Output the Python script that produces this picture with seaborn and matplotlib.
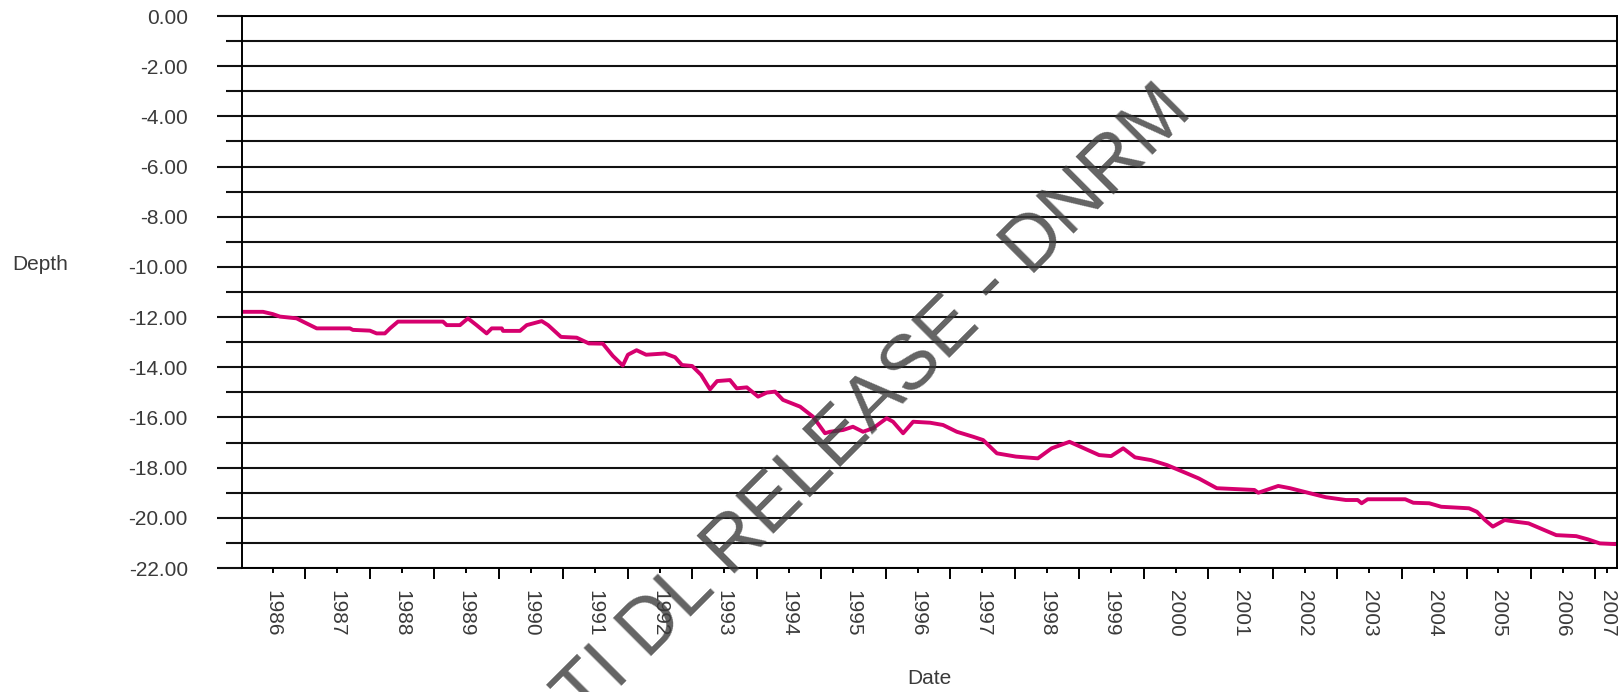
import matplotlib
matplotlib.use('Agg')
import matplotlib.pyplot as plt
import pandas as pd
import seaborn as sns

# depth readings (m)
dates = ['1986-01-08', '1986-05-07', '1986-07-01', '1986-08-11', '1986-11-13', '1986-12-19',
         '1987-03-07', '1987-09-11', '1987-09-28', '1988-01-02', '1988-02-09', '1988-03-27',
         '1988-04-25', '1988-06-09', '1989-02-19', '1989-03-12', '1989-05-26', '1989-07-10',
         '1989-08-28', '1989-10-24', '1989-11-22', '1990-01-18', '1990-01-25', '1990-05-01',
         '1990-06-08', '1990-09-01', '1990-10-07', '1990-12-19', '1991-03-18', '1991-05-26',
         '1991-08-13', '1991-10-09', '1991-12-04', '1992-01-02', '1992-02-20', '1992-04-14',
         '1992-07-30', '1992-09-25', '1992-11-03', '1992-12-31', '1993-02-19', '1993-04-11',
         '1993-05-21', '1993-08-02', '1993-09-09', '1993-11-05', '1994-01-08', '1994-02-26',
         '1994-04-14', '1994-05-29', '1994-09-03', '1994-11-15', '1995-01-22', '1995-02-19',
         '1995-05-04', '1995-06-29', '1995-08-25', '1995-10-21', '1996-01-06', '1996-02-11',
         '1996-04-08', '1996-06-04', '1996-09-08', '1996-11-20', '1997-02-06', '1997-05-10',
         '1997-07-05', '1997-09-21', '1998-01-07', '1998-05-11', '1998-07-28', '1998-11-06',
         '1999-04-23', '1999-06-30', '1999-09-06', '1999-11-12', '2000-02-11', '2000-05-12',
         '2000-09-01', '2000-11-07', '2001-02-17', '2001-09-18', '2001-10-10', '2002-01-31',
         '2002-04-08', '2002-07-29', '2002-10-28', '2003-02-18', '2003-04-26', '2003-05-18',
         '2003-06-21', '2004-01-20', '2004-03-06', '2004-06-04', '2004-08-11', '2005-01-15',
         '2005-03-01', '2005-04-16', '2005-05-30', '2005-08-05', '2005-10-12', '2005-12-18',
         '2006-03-18', '2006-05-24', '2006-09-14', '2006-11-20', '2007-01-26', '2007-05-03']
depth = [-11.79, -11.79, -11.88, -11.98, -12.05, -12.18,
         -12.45, -12.45, -12.51, -12.54, -12.65, -12.65,
         -12.45, -12.18, -12.18, -12.32, -12.32, -12.05,
         -12.32, -12.65, -12.45, -12.45, -12.55, -12.55,
         -12.32, -12.16, -12.32, -12.79, -12.82, -13.05,
         -13.06, -13.55, -13.93, -13.50, -13.32, -13.50,
         -13.45, -13.60, -13.91, -13.95, -14.30, -14.88,
         -14.55, -14.51, -14.84, -14.80, -15.17, -15.01,
         -14.97, -15.30, -15.57, -15.97, -16.63, -16.57,
         -16.50, -16.37, -16.57, -16.43, -16.03, -16.17,
         -16.63, -16.17, -16.21, -16.30, -16.57, -16.77,
         -16.90, -17.43, -17.56, -17.63, -17.23, -16.97,
         -17.50, -17.54, -17.23, -17.59, -17.70, -17.90,
         -18.23, -18.43, -18.82, -18.89, -19.00, -18.73,
         -18.82, -19.02, -19.18, -19.29, -19.29, -19.42,
         -19.26, -19.26, -19.40, -19.42, -19.56, -19.62,
         -19.76, -20.09, -20.35, -20.09, -20.16, -20.22,
         -20.49, -20.69, -20.73, -20.86, -21.02, -21.05]

years = list(range(1986, 2008))
year_labels = [str(y) for y in years]
label_dates = [f'{y}-07-01' for y in years[:-1]] + ['2007-03-08']
year_starts = [f'{y}-01-01' for y in years[1:]]

sns.set_style('white')
plt.rcParams['font.family'] = ['Liberation Sans', 'DejaVu Sans']
plt.rcParams['axes.unicode_minus'] = False

df = pd.DataFrame({'Date': pd.to_datetime(dates), 'Depth': depth})

fig = plt.figure(figsize=(16.23, 6.92), dpi=100)
ax = fig.add_axes([242 / 1623, 1 - 568 / 692, 1375 / 1623, 552 / 692])

sns.lineplot(data=df, x='Date', y='Depth', color='#d6006e', lw=2.8, ax=ax)

ax.set_ylim(-22, 0)
ax.set_yticks(list(range(0, -23, -2)))
ax.set_yticklabels([f'{v:.2f}' for v in range(0, -23, -2)])
ax.set_yticks(list(range(-1, -22, -2)), minor=True)

ax.set_xlim(pd.Timestamp('1986-01-08'), pd.Timestamp('2007-05-03'))
ax.set_xticks(pd.to_datetime(label_dates))
ax.set_xticklabels(year_labels)
ax.set_xticks(pd.to_datetime(year_starts), minor=True)

ax.yaxis.grid(True, which='both', color='#111111', lw=1.5)
ax.xaxis.grid(False)
ax.set_axisbelow(True)
for s in ax.spines.values():
    s.set_visible(True)
    s.set_color('black')
    s.set_linewidth(1.4)

ax.tick_params(axis='y', which='major', length=18, width=1.5, color='#111111',
               pad=21, labelsize=15, labelcolor='#3a3a3a', left=True)
ax.tick_params(axis='y', which='minor', length=11.5, width=1.5, color='#111111', left=True)
ax.tick_params(axis='x', which='major', length=3.6, width=1.4, color='black',
               pad=12, labelsize=15, labelcolor='#3a3a3a', labelrotation=270, bottom=True)
ax.tick_params(axis='x', which='minor', length=8, width=1.4, color='black', bottom=True)

ax.set_ylabel('Depth', rotation=0, ha='left', va='center', fontsize=15, color='#3a3a3a')
ax.yaxis.set_label_coords(-0.1673, 0.549)
ax.set_xlabel('Date', fontsize=15, color='#3a3a3a', va='center')
ax.xaxis.set_label_coords(0.5, -0.2)

# watermark
fig.text(0.527, 0.388, 'RTI DL RELEASE - DNRM', rotation=45, rotation_mode='anchor',
         ha='center', va='center', fontsize=55.5, color='#3c3c3c', alpha=0.8)

fig.savefig('out.png', dpi=100)
